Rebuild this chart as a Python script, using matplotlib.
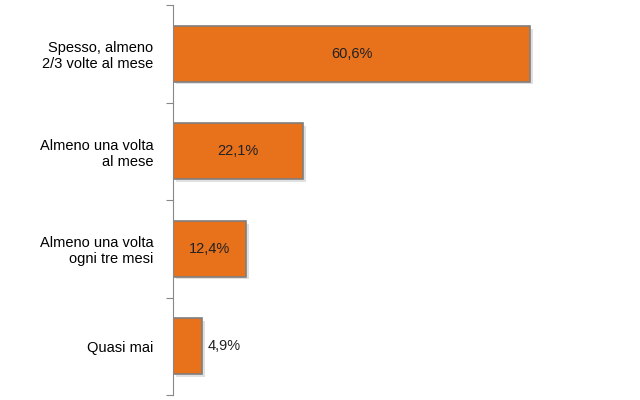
import matplotlib
matplotlib.use("Agg")
import matplotlib.pyplot as plt
import matplotlib.patheffects as pe

categories = ["Spesso, almeno\n2/3 volte al mese", "Almeno una volta\nal mese",
              "Almeno una volta\nogni tre mesi", "Quasi mai"]
values = [60.6, 22.1, 12.4, 4.9]
labels = ["60,6%", "22,1%", "12,4%", "4,9%"]

plt.rcParams['font.family'] = ['Liberation Sans', 'DejaVu Sans']
fig = plt.figure(figsize=(6.4, 4.0), dpi=100)
ax = fig.add_axes([173/640, 5/400, 430/640, 390/400])
y = list(range(len(values)))
bars = ax.barh(y, values, height=0.57, color="#E8711C", edgecolor="#7F7F7F", linewidth=1.2,
               path_effects=[pe.SimplePatchShadow(offset=(2, -2), shadow_rgbFace="#9a9a9a"), pe.Normal()])
ax.set_ylim(3.5, -0.5)
ax.set_xlim(0, 73)
for i, (v, t) in enumerate(zip(values, labels)):
    if v > 10:
        ax.text(v / 2, i, t, ha="center", va="center", fontsize=10.5, color="#222222")
    else:
        ax.text(v + 1, i, t, ha="left", va="center", fontsize=10.5, color="#222222")
ax.set_yticks([i - 0.5 for i in range(5)], minor=False)
ax.set_yticklabels([])
ax.set_yticks(y, minor=True)
ax.set_yticklabels(categories, minor=True, fontsize=10.5, ha="right")
ax.tick_params(axis="y", which="minor", length=0, pad=14)
ax.tick_params(axis="y", which="major", direction="out", length=5, color="#888888")
ax.set_xticks([])
for s in ["top", "right", "bottom"]:
    ax.spines[s].set_visible(False)
ax.spines["left"].set_color("#888888")
fig.savefig("out.png", dpi=100)
